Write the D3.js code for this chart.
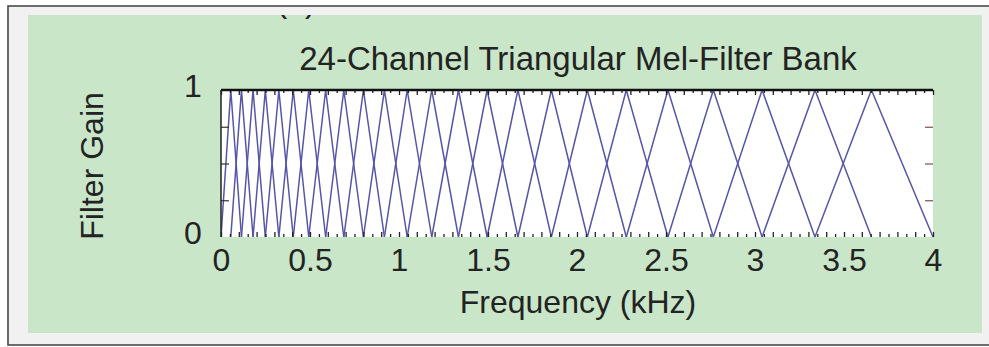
<!DOCTYPE html>
<html>
<head>
<meta charset="utf-8">
<script src="https://cdn.jsdelivr.net/npm/d3@7"></script>
<style>
  body { margin: 0; background: #fff; }
  text { font-family: "Liberation Sans", Arial, sans-serif; fill: #232323; }
</style>
</head>
<body>
<script>
// filter band edges in kHz (24 filters -> 26 edges)
var edges = [0, 0.055, 0.115, 0.18, 0.249, 0.325, 0.406, 0.493, 0.588, 0.69,
             0.8, 0.918, 1.046, 1.184, 1.334, 1.495, 1.668, 1.856, 2.058,
             2.277, 2.511, 2.766, 3.04, 3.337, 3.654, 4.0];
var xTicks = [0, 0.5, 1, 1.5, 2, 2.5, 3, 3.5, 4];
var xTickLabels = ["0", "0.5", "1", "1.5", "2", "2.5", "3", "3.5", "4"];
var yTicks = [0, 1];
var yTickLabels = ["0", "1"];
var yInner = [0.25, 0.5, 0.75];

var W = 989, H = 347;
var pLeft = 221, pRight = 933, pTop = 90, pBottom = 237;

var svg = d3.select("body").append("svg")
	.attr("width", W)
	.attr("height", H);

// frame + green panel
svg.append("rect")
	.attr("x", 8).attr("y", 6)
	.attr("width", 1000).attr("height", 339)
	.attr("fill", "#f1f1f1")
	.attr("stroke", "#4a4a4a")
	.attr("stroke-width", 1.6);

svg.append("clipPath").attr("id", "panel")
	.append("rect").attr("x", 28).attr("y", 15).attr("width", 954).attr("height", 318);

svg.append("rect")
	.attr("x", 28).attr("y", 15)
	.attr("width", 954).attr("height", 318)
	.attr("fill", "#c9e6c9");

// panel label, cut off by the panel edge as in the source
svg.append("text")
	.attr("clip-path", "url(#panel)")
	.attr("x", 296).attr("y", 12)
	.attr("text-anchor", "middle")
	.style("font-size", "32px")
	.text("(a)");

var x = d3.scaleLinear().domain([0, 4]).range([pLeft, pRight]);
var y = d3.scaleLinear().domain([0, 1]).range([pBottom, pTop]);

svg.append("rect")
	.attr("x", pLeft).attr("y", pTop)
	.attr("width", pRight - pLeft).attr("height", pBottom - pTop)
	.attr("fill", "#fff");

svg.append("clipPath").attr("id", "plot")
	.append("rect").attr("x", pLeft).attr("y", pTop - 1).attr("width", pRight - pLeft + 1).attr("height", pBottom - pTop + 2);

// triangular filters
var filters = [];
for (var i = 0; i + 2 < edges.length; i++) {
	filters.push([[edges[i], 0], [edges[i + 1], 1], [edges[i + 2], 0]]);
}

var line = d3.line()
	.x(function(d){ return x(d[0]); })
	.y(function(d){ return y(d[1]); });

svg.append("g").attr("clip-path", "url(#plot)")
	.selectAll("path")
	.data(filters)
	.enter()
	.append("path")
	.attr("d", line)
	.attr("fill", "none")
	.attr("stroke", "#5656a8")
	.attr("stroke-width", 1.5);

// minor ticks every 0.05, longer every 0.1
var fine = d3.range(0, 81).map(function(k){ return k / 20; });
var tens = fine.filter(function(v, k){ return k % 2 == 0; });
var odds = fine.filter(function(v, k){ return k % 2 == 1; });

function tickGroup(axis, ty) {
	var g = svg.append("g").attr("transform", "translate(0," + ty + ")").call(axis);
	g.select(".domain").remove();
	g.selectAll("line").attr("stroke", "#222").attr("stroke-width", 1.3);
	g.selectAll("text").remove();
	return g;
}

tickGroup(d3.axisTop(x).tickValues(tens).tickSize(-5), pTop);
tickGroup(d3.axisTop(x).tickValues(odds).tickSize(-3), pTop);
tickGroup(d3.axisBottom(x).tickValues(tens).tickSize(-5), pBottom);
tickGroup(d3.axisBottom(x).tickValues(odds).tickSize(-3), pBottom);

var gl = svg.append("g").attr("transform", "translate(" + pLeft + ",0)")
	.call(d3.axisLeft(y).tickValues(yInner).tickSize(-8));
gl.select(".domain").remove();
gl.selectAll("line").attr("stroke", "#333").attr("stroke-width", 1.2);
gl.selectAll("text").remove();

var gr = svg.append("g").attr("transform", "translate(" + pRight + ",0)")
	.call(d3.axisRight(y).tickValues(yInner).tickSize(-8));
gr.select(".domain").remove();
gr.selectAll("line").attr("stroke", "#8a4a4a").attr("stroke-width", 1.2);
gr.selectAll("text").remove();

// plot borders: heavy top, left edge
svg.append("line")
	.attr("x1", pLeft).attr("x2", pRight)
	.attr("y1", pTop).attr("y2", pTop)
	.attr("stroke", "#111").attr("stroke-width", 2.4);
svg.append("line")
	.attr("x1", pLeft).attr("x2", pLeft)
	.attr("y1", pTop).attr("y2", pBottom)
	.attr("stroke", "#222").attr("stroke-width", 1.5);

// tick labels
var gx = svg.append("g").attr("transform", "translate(0," + pBottom + ")")
	.call(d3.axisBottom(x).tickValues(xTicks).tickSize(0).tickPadding(11)
		.tickFormat(function(d, k){ return xTickLabels[k]; }));
gx.select(".domain").remove();
gx.selectAll("text")
	.style("font-size", "32px")
	.style("font-family", "'Liberation Sans', Arial, sans-serif")
	.attr("fill", "#232323");

svg.selectAll(".ylab")
	.data(yTicks)
	.enter()
	.append("text")
	.attr("class", "ylab")
	.attr("x", 193)
	.attr("y", function(d){ return y(d) + 7; })
	.attr("text-anchor", "middle")
	.style("font-size", "32px")
	.text(function(d, k){ return yTickLabels[k]; });

// titles
svg.append("text")
	.attr("x", 578).attr("y", 70)
	.attr("text-anchor", "middle")
	.style("font-size", "33px")
	.text("24-Channel Triangular Mel-Filter Bank");

svg.append("text")
	.attr("x", 578).attr("y", 313)
	.attr("text-anchor", "middle")
	.style("font-size", "32px")
	.text("Frequency (kHz)");

svg.append("text")
	.attr("transform", "translate(103,166) rotate(-90)")
	.attr("text-anchor", "middle")
	.style("font-size", "32px")
	.text("Filter Gain");
</script>
</body>
</html>
